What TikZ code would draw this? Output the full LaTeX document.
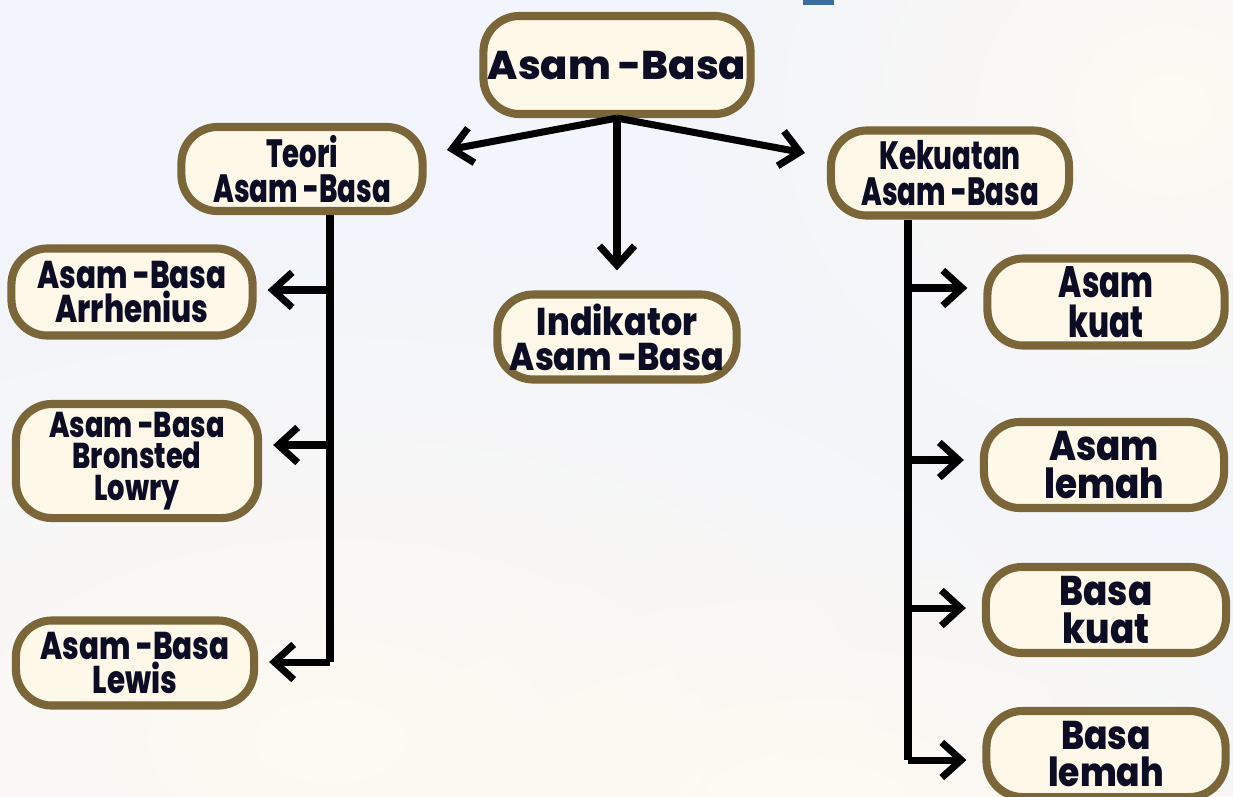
\documentclass[tikz,border=0pt]{standalone}
\usepackage{fontspec}
\usetikzlibrary{arrows.meta,fadings}
\newfontfamily\fA{Poppins ExtraBold}
\newfontfamily\fB{Poppins ExtraBold}[FakeStretch=0.70]
\newfontfamily\fC{Poppins ExtraBold}[FakeStretch=0.76]
\newfontfamily\fD{Poppins ExtraBold}[FakeStretch=0.86]
\definecolor{bg}{HTML}{F2F5FB}
\definecolor{cloud}{HTML}{FEFAF3}
\definecolor{boxbrown}{HTML}{7A6638}
\definecolor{boxfill}{HTML}{FDF8E8}
\definecolor{txt}{HTML}{0C0C24}
\definecolor{titleblue}{HTML}{3B6E9E}
\tikzfading[name=softcloud, inner color=transparent!0, outer color=transparent!100]
\tikzset{
  cbox/.style={draw=boxbrown, line width=2.3pt, fill=boxfill, rounded corners=0.36cm,
    align=center, text=txt, inner sep=0pt},
  conn/.style={line width=2pt, draw=black},
  arr/.style={conn, -{Straight Barb[length=5.5pt,width=10pt]}},
}
\begin{document}
\begin{tikzpicture}[x=0.01cm,y=-0.01cm]
\clip (0,0) rectangle (1233,796);
\useasboundingbox (0,0) rectangle (1233,796);
\fill[bg] (0,0) rectangle (1233,796);
\fill[cloud, path fading=softcloud] (330,740) ellipse (900 and 500);
\fill[cloud, path fading=softcloud] (1170,110) ellipse (480 and 420);
\fill[cloud, path fading=softcloud] (820,800) ellipse (700 and 300);
\fill[titleblue] (803,0) rectangle (834,5);

% nodes
\node[cbox, minimum width=2.67cm, minimum height=0.98cm,
  font=\fA\fontsize{11.4}{10}\selectfont] (top) at (617,65) {Asam -Basa};
\node[cbox, minimum width=2.41cm, minimum height=0.84cm,
  font=\fB\fontsize{11.2}{10}\selectfont] (teori) at (302,169) {Teori\\Asam -Basa};
\node[cbox, minimum width=2.38cm, minimum height=0.85cm,
  font=\fB\fontsize{11.2}{10}\selectfont] (kek) at (950,173) {Kekuatan\\Asam -Basa};
\node[cbox, minimum width=2.39cm, minimum height=0.85cm,
  font=\fD\fontsize{11}{10}\selectfont] (ind) at (617,337) {Indikator\\Asam -Basa};
\node[cbox, minimum width=2.41cm, minimum height=0.87cm,
  font=\fC\fontsize{11}{9.8}\selectfont] (arrh) at (132,292) {Asam -Basa\\Arrhenius};
\node[cbox, minimum width=2.42cm, minimum height=1.14cm,
  font=\fC\fontsize{10.2}{9}\selectfont] (bron) at (137,461) {Asam -Basa\\Bronsted\\Lowry};
\node[cbox, minimum width=2.38cm, minimum height=0.85cm,
  font=\fC\fontsize{11}{9.8}\selectfont] (lewis) at (135,663) {Asam -Basa\\Lewis};
\node[cbox, minimum width=2.37cm, minimum height=0.87cm,
  font=\fB\fontsize{12.5}{11.2}\selectfont] (akuat) at (1106,302) {Asam\\kuat};
\node[cbox, minimum width=2.40cm, minimum height=0.86cm,
  font=\fD\fontsize{11.8}{11}\selectfont] (alemah) at (1104,465) {Asam\\lemah};
\node[cbox, minimum width=2.40cm, minimum height=0.86cm,
  font=\fD\fontsize{11.8}{11}\selectfont] (bkuat) at (1106,610) {Basa\\kuat};
\node[cbox, minimum width=2.39cm, minimum height=0.86cm,
  font=\fD\fontsize{11.4}{10.4}\selectfont] (blemah) at (1106,754) {Basa\\lemah};

% coordinates
\coordinate (tl) at (447,150);
\coordinate (tr) at (805,153);
\coordinate (lt1) at (330,290);
\coordinate (lt2) at (330,445);
\coordinate (lt3) at (330,662);
\coordinate (rt1) at (908,288);
\coordinate (rt2) at (908,460);
\coordinate (rt3) at (908,608);
\coordinate (rt4) at (908,760);

% connectors
\draw[arr] (top.south) -- (tl);
\draw[arr] (top.south) -- (tr);
\draw[arr, shorten >=0.2cm] (top.south) -- (ind.north);

\draw[conn] (teori.south -| lt1) -- (lt3);
\draw[arr, shorten >=0.11cm] (lt1) -- (lt1 -| arrh.east);
\draw[arr, shorten >=0.11cm] (lt2) -- (lt2 -| bron.east);
\draw[arr, shorten >=0.11cm] (lt3) -- (lt3 -| lewis.east);

\draw[conn] (kek.south -| rt1) -- (rt4);
\draw[arr, shorten >=0.16cm] (rt1) -- (rt1 -| akuat.west);
\draw[arr, shorten >=0.16cm] (rt2) -- (rt2 -| alemah.west);
\draw[arr, shorten >=0.16cm] (rt3) -- (rt3 -| bkuat.west);
\draw[arr, shorten >=0.16cm] (rt4) -- (rt4 -| blemah.west);
\end{tikzpicture}
\end{document}
